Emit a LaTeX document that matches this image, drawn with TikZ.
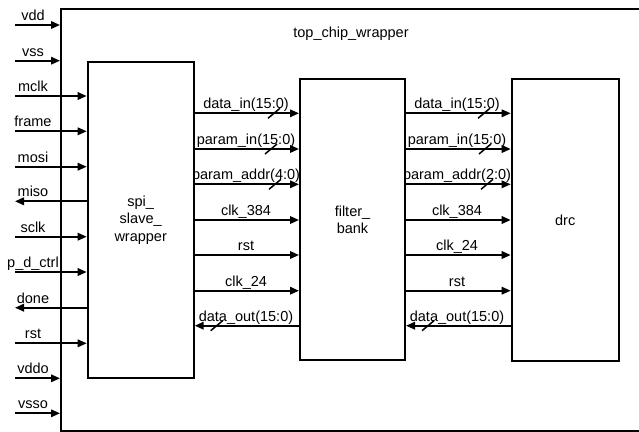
\documentclass[tikz,border=0pt]{standalone}
\usepackage{fontspec}
\setmainfont{Liberation Sans}
\usetikzlibrary{arrows.meta}
\tikzset{
  wire/.style={line width=1.8pt},
  arr/.style={wire,-{Triangle[length=9pt,width=7.5pt]}},
  blk/.style={draw,line width=2pt,inner sep=0pt,anchor=north west,align=center,
    font=\fontsize{14.5}{17.5}\selectfont},
  lbl/.style={anchor=base,inner sep=0pt,font=\fontsize{14.5}{17.5}\selectfont},
  bus/.style={line width=1.5pt}
}
\begin{document}
\begin{tikzpicture}[x=1pt,y=-1pt]
\useasboundingbox (0,0) rectangle (639,431);
\clip (0,0) rectangle (639,431);
% blocks
\node[blk,line width=2.2pt,minimum width=600pt,minimum height=422pt] (top) at (60,8) {};
\node[lbl,anchor=center] (toplbl) at (351,34) {top\_chip\_wrapper};
\node[blk,minimum width=106pt,minimum height=316.6pt] (spi) at (86.7,60.7) {spi\_\\slave\_\\wrapper};
\node[blk,minimum width=105pt,minimum height=281pt] (filter) at (299,78.3) {filter\_\\bank};
\node[blk,minimum width=107pt,minimum height=281.5pt] (drc) at (510.7,78.3) {drc};
% left pins into the top wrapper
\foreach \n/\y/\t in {vdd/25/vdd, vss/60.7/vss, vddo/378.3/vddo, vsso/413.3/vsso}{
  \coordinate (L\n) at (15,\y);
  \draw[arr] (L\n) -- (L\n -| top.west);
  \node[lbl] (LT\n) at (33,\y-4.5) {\t};
}
% left pins into spi
\foreach \n/\y/\t in {mclk/96/mclk, frame/131.3/frame, mosi/166.7/mosi, sclk/236.7/sclk, pdc/272/p\_d\_ctrl, rst/343.3/rst}{
  \coordinate (L\n) at (15,\y);
  \draw[arr] (L\n) -- (L\n -| spi.west);
  \node[lbl] (LT\n) at (33,\y-4.5) {\t};
}
% left pins out of spi
\foreach \n/\y/\t in {miso/201.3/miso, done/307.7/done}{
  \coordinate (L\n) at (15,\y);
  \draw[arr] (L\n -| spi.west) -- (L\n);
  \node[lbl] (LT\n) at (33,\y-4.5) {\t};
}
% spi -> filter
\foreach \n/\y/\t in {a/113.3/data\_in(15:0), b/149/param\_in(15:0), c/184.3/param\_addr(4:0), d/220/clk\_384, e/255/rst, f/290.7/clk\_24}{
  \coordinate (M\n) at (246,\y);
  \draw[arr] (spi.east |- M\n) -- (filter.west |- M\n);
  \node[lbl] (MT\n) at (246,\y-4.5) {\t};
}
\coordinate (Mg) at (246,325.7);
\draw[arr] (filter.west |- Mg) -- (spi.east |- Mg);
\node[lbl] (MTg) at (246,321.2) {data\_out(15:0)};
% filter -> drc
\foreach \n/\y/\t in {a/113.3/data\_in(15:0), b/149/param\_in(15:0), c/184.3/param\_addr(2:0), d/220/clk\_384, e/255/clk\_24, f/290.7/rst}{
  \coordinate (R\n) at (457,\y);
  \draw[arr] (filter.east |- R\n) -- (drc.west |- R\n);
  \node[lbl] (RT\n) at (457,\y-4.5) {\t};
}
\coordinate (Rg) at (457,325.7);
\draw[arr] (drc.west |- Rg) -- (filter.east |- Rg);
\node[lbl] (RTg) at (457,321.2) {data\_out(15:0)};
% bus slashes
\foreach \x/\y in {274/113.3, 271/149, 275/184.3, 216.7/325.7, 484/113.3, 485/149, 487/184.3, 428/325.7}{
  \draw[bus] (\x-6,\y+5) -- (\x+6,\y-5);
}
\end{tikzpicture}
\end{document}
